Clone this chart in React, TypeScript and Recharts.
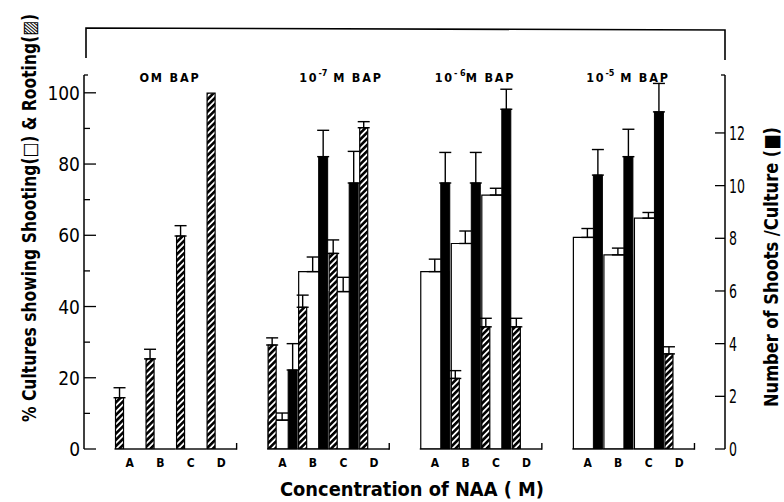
import React from 'react';
import { BarChart, Bar, XAxis, YAxis, ErrorBar, Label } from 'recharts';

// NAA concentrations (x groups) and BAP levels (panels)
const LETTERS = ['A', 'B', 'C', 'D'];
const PANEL_TITLES = [
  { base: 'OM BAP' },
  { base: '10', exp: '-7', rest: ' M BAP' },
  { base: '10', exp: '- 6', rest: 'M BAP' },
  { base: '10', exp: '-5', rest: '  M BAP' },
];

// % cultures rooting (hatched bars)
const ROOTING = [
  [14.4, 25.3, 59.8, 99.9],
  [29.2, 39.8, 54.9, 90.2],
  [null, 19.8, 34.3, 34.3],
  [null, null, null, 26.7],
];
const ROOTING_ERR = [
  [2.8, 2.7, 2.9, null],
  [2.0, 3.4, 3.8, 1.7],
  [null, 2.2, 2.4, 2.4],
  [null, null, null, 2.0],
];

// % cultures shooting (open bars)
const SHOOTING = [
  [null, null, null, null],
  [8.1, 49.8, 44.2, null],
  [49.8, 57.7, 71.3, null],
  [59.4, 54.5, 64.8, null],
];
const SHOOTING_ERR = [
  [null, null, null, null],
  [2.0, 4.1, 4.0, null],
  [3.5, 3.5, 1.9, null],
  [2.5, 1.9, 1.6, null],
];

// number of shoots / culture (black bars, right axis)
const SHOOTS = [
  [null, null, null, null],
  [3.0, 11.1, 10.1, null],
  [10.1, 10.1, 12.9, null],
  [10.4, 11.1, 12.8, null],
];
const SHOOTS_ERR = [
  [null, null, null, null],
  [1.0, 1.0, 1.2, null],
  [1.16, 1.16, 0.76, null],
  [0.97, 1.04, 1.08, null],
];

const LEFT_TICKS = [0, 10, 20, 30, 40, 50, 60, 70, 80, 90, 100, 105];
const RIGHT_TICKS = [0, 2, 4, 6, 8, 10, 12, 14.2];

const W = 784;
const H = 502;
const PLOT_LEFT = 84;
const PLOT_RIGHT = 725;
const PLOT_TOP = 75;
const PLOT_BOTTOM = 449;
const Y_AXIS_W = 40;
const X_AXIS_H = 30;
const TICK_GAP = 3;

const upper = (e: number | null) => (e == null ? undefined : [0, e]);

const rows: any[] = [];
ROOTING.forEach((_, p) => {
  rows.push({ key: `gap${p}` });
  LETTERS.forEach((letter, i) => {
    rows.push({
      key: `${letter}${p}`,
      letter,
      rooting: ROOTING[p][i],
      rootingErr: upper(ROOTING_ERR[p][i]),
      shooting: SHOOTING[p][i],
      shootingErr: upper(SHOOTING_ERR[p][i]),
      shoots: SHOOTS[p][i],
      shootsErr: upper(SHOOTS_ERR[p][i]),
    });
  });
});
rows.push({ key: 'gap4' });

const ROW_BY_KEY: Record<string, any> = {};
rows.forEach((r) => (ROW_BY_KEY[r.key] = r));
const BAND = (PLOT_RIGHT - PLOT_LEFT) / rows.length;

const FONT = '"DejaVu Sans Condensed", "DejaVu Sans", sans-serif';

function NaaTick({ x, y, payload }: any) {
  const row = ROW_BY_KEY[payload.value];
  if (!row || !row.letter) return null;
  const half = BAND / 2;
  return (
    <g>
      <line x1={x - half} x2={x + half} y1={y} y2={y} stroke="#000" strokeWidth={1.4} />
      {row.letter === 'D' && (
        <line x1={x + half} x2={x + half} y1={y + 0.7} y2={y - 6} stroke="#000" strokeWidth={1.4} />
      )}
      <text x={x} y={y + 18} textAnchor="middle" fontSize={12} fontWeight="bold" fontFamily={FONT} fill="#000">
        {row.letter}
      </text>
    </g>
  );
}

function LeftTick({ x, y, payload }: any) {
  const v = payload.value;
  const axisX = x + TICK_GAP;
  const labelled = v % 20 === 0 && v <= 100;
  const len = labelled ? 12 : v > 100 ? 4 : 6;
  return (
    <g>
      <line x1={axisX} x2={axisX + len} y1={y} y2={y} stroke="#000" strokeWidth={1.3} />
      {labelled && (
        <text x={x - 1} y={y + 7} textAnchor="end" fontSize={19} fontFamily={FONT} fill="#000">
          {v}
        </text>
      )}
    </g>
  );
}

function RightTick({ x, y, payload }: any) {
  const v = payload.value;
  const axisX = x - TICK_GAP;
  const labelled = v <= 12;
  const len = labelled ? 10 : 4;
  return (
    <g>
      <line x1={axisX - len} x2={axisX} y1={y} y2={y} stroke="#000" strokeWidth={1.3} />
      {labelled && (
        <text
          x={x + 1}
          y={y + 7}
          textAnchor="start"
          fontSize={19}
          fontFamily={FONT}
          fill="#000"
          textLength={String(v).length * 8}
          lengthAdjust="spacingAndGlyphs"
        >
          {v}
        </text>
      )}
    </g>
  );
}

const titleStyle = { fontFamily: FONT, fontWeight: 'bold' as const, fill: '#000' };

export default function App() {
  return (
    <div style={{ position: 'absolute', left: 0, top: 0, width: W, height: H, background: '#fff' }}>
      <BarChart
        width={W}
        height={H}
        data={rows}
        barGap={12}
        margin={{
          top: PLOT_TOP,
          left: PLOT_LEFT - Y_AXIS_W,
          right: W - PLOT_RIGHT - Y_AXIS_W,
          bottom: H - PLOT_BOTTOM - X_AXIS_H,
        }}
      >
        <defs>
          <pattern id="hatch" width={4.4} height={4.4} patternUnits="userSpaceOnUse" patternTransform="rotate(45)">
            <rect width={4.4} height={4.4} fill="#fff" />
            <rect width={2.6} height={4.4} fill="#000" />
          </pattern>
        </defs>

        <XAxis
          xAxisId="main"
          dataKey="key"
          height={X_AXIS_H}
          interval={0}
          axisLine={false}
          tickLine={false}
          tickSize={0}
          tickMargin={0}
          tick={<NaaTick />}
        >
          <Label
            content={() => (
              <text
                x={412}
                y={496}
                textAnchor="middle"
                fontSize={20}
                textLength={264}
                lengthAdjust="spacingAndGlyphs"
                style={titleStyle}
              >
                Concentration of NAA ( M)
              </text>
            )}
          />
        </XAxis>
        <XAxis xAxisId="open" dataKey="key" hide height={0} />

        <YAxis
          yAxisId="pct"
          width={Y_AXIS_W}
          domain={[0, 105]}
          ticks={LEFT_TICKS}
          interval={0}
          allowDataOverflow
          axisLine={{ stroke: '#000', strokeWidth: 1.5 }}
          tickLine={false}
          tickSize={0}
          tickMargin={TICK_GAP}
          tick={<LeftTick />}
        >
          <Label
            content={() => (
              <text
                transform="translate(36 218) rotate(-90) scale(0.84 1)"
                textAnchor="middle"
                fontSize={19}
                textLength={486}
                lengthAdjust="spacingAndGlyphs"
                style={titleStyle}
              >
                % Cultures showing Shooting(□) &amp; Rooting(▨)
              </text>
            )}
          />
        </YAxis>
        <YAxis
          yAxisId="num"
          orientation="right"
          width={Y_AXIS_W}
          domain={[0, 14.2]}
          ticks={RIGHT_TICKS}
          interval={0}
          allowDataOverflow
          axisLine={{ stroke: '#000', strokeWidth: 1.5 }}
          tickLine={false}
          tickSize={0}
          tickMargin={TICK_GAP}
          tick={<RightTick />}
        >
          <Label
            content={() => (
              <text
                transform="translate(778 267) rotate(-90)"
                textAnchor="middle"
                fontSize={20}
                textLength={280}
                lengthAdjust="spacingAndGlyphs"
                style={titleStyle}
              >
                Number of Shoots /Culture (■)
              </text>
            )}
          />
        </YAxis>

        {/* open bars sit behind the rooting and shoot bars */}
        <Bar
          xAxisId="open"
          yAxisId="pct"
          dataKey="shooting"
          barSize={28}
          fill="#fff"
          stroke="#000"
          strokeWidth={1.2}
          isAnimationActive={false}
        >
          <ErrorBar dataKey="shootingErr" width={6} stroke="#000" strokeWidth={1.4} direction="y" />
        </Bar>
        <Bar
          xAxisId="main"
          yAxisId="pct"
          dataKey="rooting"
          barSize={8}
          fill="url(#hatch)"
          stroke="#000"
          strokeWidth={1.2}
          isAnimationActive={false}
        >
          <ErrorBar dataKey="rootingErr" width={6} stroke="#000" strokeWidth={1.4} direction="y" />
        </Bar>
        <Bar
          xAxisId="main"
          yAxisId="num"
          dataKey="shoots"
          barSize={9}
          fill="#000"
          stroke="#000"
          strokeWidth={1}
          isAnimationActive={false}
        >
          <ErrorBar dataKey="shootsErr" width={6} stroke="#000" strokeWidth={1.4} direction="y" />
        </Bar>
      </BarChart>

      <svg width={W} height={H} style={{ position: 'absolute', left: 0, top: 0, pointerEvents: 'none' }}>
        <polyline points="86,58 86,28 725,30 725,60" fill="none" stroke="#000" strokeWidth={1.6} />
        {PANEL_TITLES.map((t, i) => {
          const cx = [170, 341, 475, 628][i];
          return (
            <text key={i} x={cx} y={82} textAnchor="middle" fontSize={12.5} letterSpacing={1.8} style={titleStyle}>
              {t.base}
              {t.exp && (
                <tspan dy={-6} fontSize={9} letterSpacing={0}>
                  {t.exp}
                </tspan>
              )}
              {t.rest && <tspan dy={6}>{t.rest}</tspan>}
            </text>
          );
        })}
      </svg>
    </div>
  );
}
